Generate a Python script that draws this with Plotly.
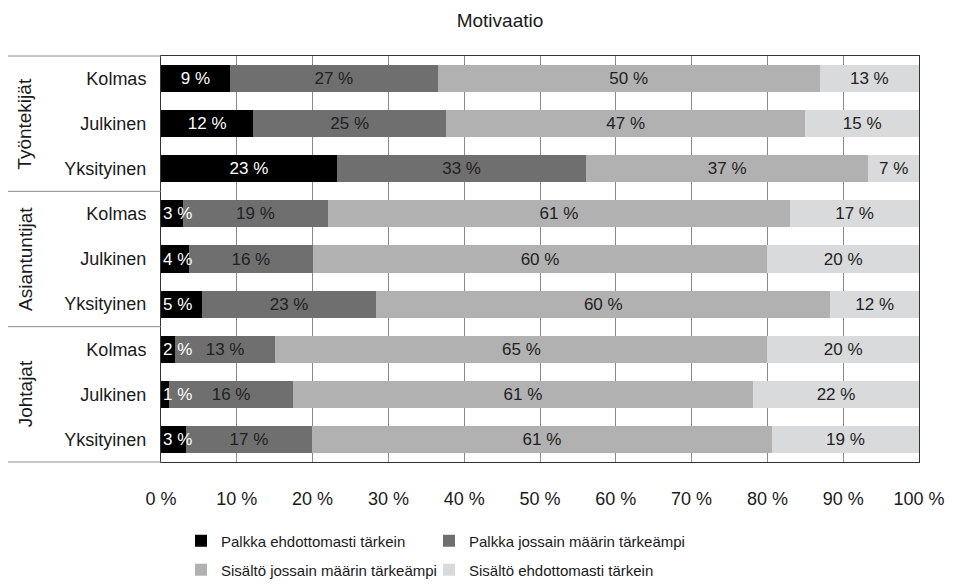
import plotly.graph_objects as go

# ---- data ----
groups = ["Työntekijät", "Asiantuntijat", "Johtajat"]
sectors = ["Kolmas", "Julkinen", "Yksityinen",
           "Kolmas", "Julkinen", "Yksityinen",
           "Kolmas", "Julkinen", "Yksityinen"]
series_names = ["Palkka ehdottomasti tärkein",
                "Palkka jossain määrin tärkeämpi",
                "Sisältö jossain määrin tärkeämpi",
                "Sisältö ehdottomasti tärkein"]
palkka_ehdottomasti = [9.1, 12.2, 23.2, 2.9, 3.7, 5.4, 1.8, 1.1, 3.3]
palkka_jossain = [27.4, 25.4, 32.9, 19.1, 16.3, 23.0, 13.3, 16.3, 16.6]
sisalto_jossain = [50.4, 47.4, 37.2, 61.0, 60.0, 59.9, 64.9, 60.7, 60.7]
sisalto_ehdottomasti = [13.1, 15.0, 6.7, 17.0, 20.0, 11.7, 20.0, 21.9, 19.4]
x_ticks = [0, 10, 20, 30, 40, 50, 60, 70, 80, 90, 100]
x_ticklabels = ["0 %", "10 %", "20 %", "30 %", "40 %", "50 %",
                "60 %", "70 %", "80 %", "90 %", "100 %"]

colors = ["#000000", "#6f6f6f", "#b1b1b1", "#d9dadb"]
text_colors = ["#ffffff", "#222222", "#222222", "#222222"]
series_values = [palkka_ehdottomasti, palkka_jossain, sisalto_jossain, sisalto_ehdottomasti]

FONT = "Liberation Sans"
positions = list(range(len(sectors)))
legend_ids = ["legend", "legend2", "legend3", "legend4"]
SMALL = 6  # segments too narrow for centred label -> label starts at bar start

fig = go.Figure()
for i, (name, vals) in enumerate(zip(series_names, series_values)):
    if i == 0:
        texts = [f"{round(v)} %" if v >= SMALL else "" for v in vals]
    else:
        texts = [f"{round(v)} %" for v in vals]
    fig.add_trace(go.Bar(
        y=positions, x=vals, name=name, orientation="h",
        marker=dict(color=colors[i], line=dict(width=0)),
        width=0.6,
        text=texts,
        textposition="inside", insidetextanchor="middle",
        constraintext="none", textangle=0, cliponaxis=False,
        textfont=dict(color=text_colors[i], size=17, family=FONT),
        legend=legend_ids[i],
        hoverinfo="skip",
    ))

# narrow black segments: label left-aligned at the bar start
for pos, v in zip(positions, palkka_ehdottomasti):
    if v < SMALL:
        fig.add_annotation(
            x=0, xref="x", y=pos, yref="y", xanchor="left", yanchor="middle",
            xshift=0, text=f"{round(v)} %", showarrow=False,
            font=dict(size=17, family=FONT, color=text_colors[0]))

# group labels (rotated) and separator lines on the left
left_paper = (8 - 161) / 758
n = len(groups)
for g, name in enumerate(groups):
    fig.add_annotation(
        x=(25 - 161) / 758, xref="paper", y=1 - (g + 0.5) / n, yref="paper",
        text=name, textangle=-90, showarrow=False,
        font=dict(size=19, family=FONT, color="#1a1a1a"),
        xanchor="center", yanchor="middle")
for k in range(n + 1):
    fig.add_shape(type="line", xref="paper", yref="paper",
                  x0=left_paper, x1=0, y0=1 - k / n, y1=1 - k / n,
                  line=dict(color="#8a8a8a", width=1))

legend_font = dict(size=15, family=FONT, color="#1a1a1a")
col_x = [(181 - 161) / 758, (429 - 161) / 758]
row_y = [-(541 - 462) / 406, -(570 - 462) / 406]
legend_layouts = {}
for i, lid in enumerate(legend_ids):
    legend_layouts[lid] = dict(
        orientation="h", x=col_x[i % 2], xanchor="left",
        y=row_y[i // 2], yanchor="middle",
        font=legend_font, bgcolor="rgba(0,0,0,0)")

fig.update_layout(
    width=953, height=588,
    margin=dict(l=161, r=34, t=56, b=126, autoexpand=False),
    paper_bgcolor="white", plot_bgcolor="white",
    barmode="stack", bargap=0.4,
    font=dict(family=FONT, size=17, color="#1a1a1a"),
    title=dict(text="Motivaatio", x=(500 - 161) / 758, xref="paper",
               xanchor="center", y=1 - 20 / 588, yanchor="middle",
               font=dict(size=19, family=FONT, color="#1a1a1a")),
    xaxis=dict(range=[0, 100], tickvals=x_ticks, ticktext=x_ticklabels,
               showgrid=True, gridcolor="#8a8a8a", gridwidth=1,
               zeroline=False, showline=True, linecolor="#333333", linewidth=1,
               mirror=True, ticks="outside", ticklen=20, tickcolor="rgba(0,0,0,0)",
               tickfont=dict(size=18, family=FONT, color="#1a1a1a"), fixedrange=True),
    yaxis=dict(range=[8.5, -0.5], tickvals=positions, ticktext=sectors,
               showgrid=False, zeroline=False, showline=True, linecolor="#333333",
               linewidth=1, mirror=True, ticks="outside", ticklen=10,
               tickcolor="rgba(0,0,0,0)",
               tickfont=dict(size=18, family=FONT, color="#1a1a1a"), fixedrange=True),
    showlegend=True,
    **legend_layouts,
)

fig.write_html("out.html", config={"displayModeBar": False},
               post_script="document.body.style.margin='0px';")
